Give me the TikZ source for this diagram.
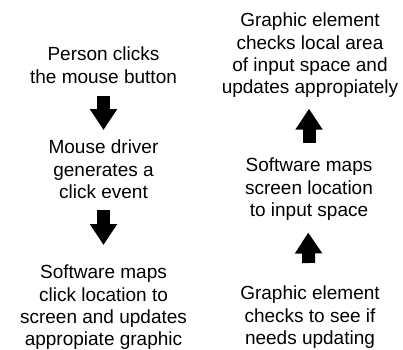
\documentclass[tikz,border=0pt]{standalone}
\usepackage{fontspec}
\setmainfont{Liberation Sans}
\usetikzlibrary{arrows.meta}

\begin{document}
\begin{tikzpicture}[x=1pt, y=-1pt,
    steptext/.style={align=center, inner sep=0pt, anchor=north,
      font=\fontsize{19}{22.2}\selectfont},
    bigarrow/.style={line width=13pt, -{Triangle[width=26pt, length=21pt]}}]
  \useasboundingbox (0, 0) rectangle (403, 349);
  % left column
  \node[steptext] (press) at (103.5, 47) {Person clicks\\the mouse button};
  \node[steptext] (driver) at (103.5, 140) {Mouse driver\\generates a\\click event};
  \node[steptext] (mapclick) at (103.5, 265) {Software maps\\click location to\\screen and updates\\appropiate graphic};
  % right column
  \node[steptext] (check) at (310, 286) {Graphic element\\checks to see if\\needs updating};
  \node[steptext] (mapscreen) at (309, 158) {Software maps\\screen location\\to input space};
  \node[steptext] (update) at (310, 13) {Graphic element\\checks local area\\of input space and\\updates appropiately};
  % arrows
  \draw[bigarrow, shorten <=12pt, shorten >=10pt] (press.south) -- (driver.north);
  \draw[bigarrow, shorten <=11pt, shorten >=20pt] (driver.south) -- (mapclick.north);
  \draw[bigarrow, shorten <=23pt, shorten >=12pt] ([xshift=-1pt]check.north) -- ([xshift=-1pt]mapscreen.south);
  \draw[bigarrow, shorten <=15pt, shorten >=11pt] (mapscreen.north) -- ([xshift=-1pt]update.south);
\end{tikzpicture}
\end{document}
